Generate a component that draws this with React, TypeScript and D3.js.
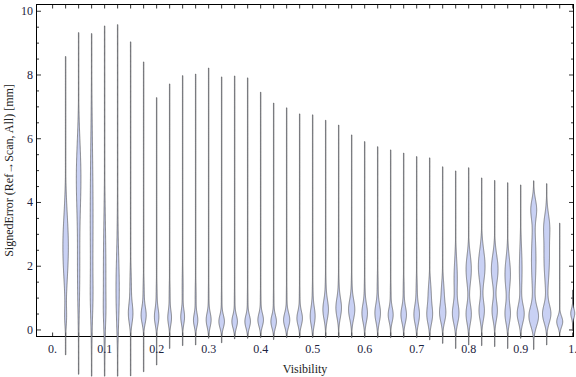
import React from "react";
import * as d3 from "d3";

// Category positions (Visibility bins)
const visibility = [
  0.025, 0.05, 0.075, 0.1, 0.125, 0.15, 0.175, 0.2, 0.225, 0.25,
  0.275, 0.3, 0.325, 0.35, 0.375, 0.4, 0.425, 0.45, 0.475, 0.5,
  0.525, 0.55, 0.575, 0.6, 0.625, 0.65, 0.675, 0.7, 0.725, 0.75,
  0.775, 0.8, 0.825, 0.85, 0.875, 0.9, 0.925, 0.95, 0.975, 1.0,
];

// Extent of each distribution (mm)
const maxError = [
  8.58, 9.33, 9.3, 9.54, 9.58, 9.04, 8.41, 7.29, 7.72, 7.98,
  8.03, 8.22, 7.94, 7.97, 7.91, 7.46, 7.12, 6.97, 6.78, 6.75,
  6.58, 6.43, 6.12, 5.91, 5.75, 5.65, 5.55, 5.44, 5.4, 5.12,
  4.99, 5.09, 4.77, 4.69, 4.62, 4.55, 4.68, 4.59, 3.35, 1.25,
];
const minError = [
  -0.78, -1.39, -1.45, -1.45, -1.45, -1.44, -1.31, -1.1, -0.58, -0.49,
  -0.47, -0.26, -0.4, -0.28, -0.26, -0.24, -0.3, -0.24, -0.25, -0.24,
  -0.24, -0.24, -0.24, -0.24, -0.24, -0.24, -0.24, -0.24, -0.31, -0.42,
  -0.58, -0.47, -0.49, -0.52, -0.58, -0.26, -0.61, -0.47, -0.08, -0.02,
];

// Density modes of each distribution: [centre (mm), spread (mm), relative density]
const densityModes: number[][][] = [
  [[2.6, 1.0, 0.55], [0.4, 0.3, 0.15]],
  [[4.8, 1.1, 0.45], [1.8, 1.2, 0.22]],
  [[3.5, 2.3, 0.28], [1.0, 0.6, 0.12]],
  [[1.8, 1.6, 0.25], [0.6, 0.4, 0.08]],
  [[1.2, 1.0, 0.3], [3.0, 1.5, 0.06]],
  [[0.5, 0.3, 0.4], [1.3, 0.6, 0.15]],
  [[0.45, 0.25, 0.46], [1.1, 0.5, 0.12]],
  [[0.4, 0.25, 0.4], [1.0, 0.5, 0.1]],
  [[0.37, 0.22, 0.33], [1.0, 0.5, 0.1]],
  [[0.4, 0.22, 0.35], [1.3, 0.6, 0.1]],
  [[0.3, 0.2, 0.4], [1.0, 0.5, 0.1]],
  [[0.31, 0.22, 0.47], [1.0, 0.5, 0.07]],
  [[0.26, 0.2, 0.53], [0.9, 0.45, 0.07]],
  [[0.26, 0.2, 0.53], [0.9, 0.45, 0.07]],
  [[0.26, 0.2, 0.53], [0.9, 0.45, 0.07]],
  [[0.31, 0.2, 0.53], [0.9, 0.45, 0.07]],
  [[0.26, 0.2, 0.53], [0.9, 0.45, 0.07]],
  [[0.31, 0.22, 0.6], [1.0, 0.45, 0.07]],
  [[0.36, 0.22, 0.53], [1.0, 0.45, 0.07]],
  [[0.42, 0.28, 0.47], [1.1, 0.45, 0.08]],
  [[0.63, 0.3, 0.53], [1.3, 0.45, 0.08]],
  [[0.68, 0.3, 0.53], [1.3, 0.45, 0.08]],
  [[0.63, 0.3, 0.6], [1.3, 0.45, 0.08]],
  [[0.52, 0.28, 0.53], [1.2, 0.45, 0.08]],
  [[0.52, 0.28, 0.53], [1.3, 0.5, 0.1]],
  [[0.47, 0.22, 0.47], [1.1, 0.45, 0.08]],
  [[0.47, 0.25, 0.53], [1.2, 0.45, 0.1]],
  [[0.47, 0.28, 0.53], [1.2, 0.45, 0.12]],
  [[0.45, 0.28, 0.5], [1.1, 0.4, 0.3]],
  [[0.5, 0.27, 0.53], [1.1, 0.4, 0.3], [2.7, 0.5, 0.05]],
  [[0.5, 0.3, 0.6], [1.6, 0.6, 0.33]],
  [[0.5, 0.3, 0.53], [1.9, 0.45, 0.53]],
  [[0.6, 0.3, 0.53], [2.0, 0.5, 0.67]],
  [[0.6, 0.3, 0.53], [1.9, 0.45, 0.67]],
  [[0.5, 0.3, 0.53], [1.75, 0.5, 0.55]],
  [[0.5, 0.28, 0.67], [1.9, 0.7, 0.27]],
  [[0.42, 0.3, 0.9], [2.2, 0.9, 0.45], [3.8, 0.3, 0.5]],
  [[0.5, 0.28, 0.8], [2.3, 0.8, 0.55], [3.3, 0.35, 0.35]],
  [[0.26, 0.17, 0.6]],
  [[0.52, 0.15, 0.4]],
];

const xTickValues = [0, 0.1, 0.2, 0.3, 0.4, 0.5, 0.6, 0.7, 0.8, 0.9, 1.0];
const xTickLabels = ["0.", "0.1", "0.2", "0.3", "0.4", "0.5", "0.6", "0.7", "0.8", "0.9", "1."];
const yTickValues = [0, 2, 4, 6, 8, 10];
const yTickLabels = ["0", "2", "4", "6", "8", "10"];

const W = 576;
const H = 377;
const FRAME = { left: 36.5, right: 573.5, top: 4.5, bottom: 336.5 };

export default function App() {
  const x = d3.scaleLinear().domain([-0.031, 1.0015]).range([FRAME.left, FRAME.right]);
  const y = d3.scaleLinear().domain([-0.205, 10.212]).range([FRAME.bottom, FRAME.top]);
  const w = d3.scaleLinear().domain([0, 1]).range([0, 5]);

  const minorX = d3.range(0, 41).map((i) => i / 40);
  const yTicksAll = d3.range(0, 21).map((i) => i / 2);

  const violins = visibility.map((v, i) => {
    const cx = x(v);
    const lo = minError[i];
    const hi = maxError[i];
    const n = 400;
    const pts: [number, number][] = d3.range(n + 1).map((k) => {
      const val = lo + ((hi - lo) * k) / n;
      const dens = densityModes[i].reduce(
        (s, [m, sd, a]) => s + a * Math.exp(-0.5 * ((val - m) / sd) ** 2),
        0
      );
      return [val, Math.max(0.22, w(dens))];
    });
    const area = d3
      .area<[number, number]>()
      .y((d) => y(d[0]))
      .x0((d) => cx - d[1])
      .x1((d) => cx + d[1])
      .curve(d3.curveLinear);
    return area(pts) || "";
  });

  const font = "'Liberation Serif', 'Times New Roman', serif";

  return (
    <svg
      width={W}
      height={H}
      style={{ position: "absolute", left: 0, top: 0, background: "#fff" }}
    >
      <rect x={0} y={0} width={W} height={H} fill="#fff" />
      {/* frame */}
      <rect
        x={FRAME.left}
        y={FRAME.top}
        width={FRAME.right - FRAME.left}
        height={FRAME.bottom - FRAME.top}
        fill="none"
        stroke="#000"
        strokeWidth={1}
      />
      {/* x ticks */}
      {minorX.map((t, i) => (
        <g key={"xt" + i}>
          <line x1={x(t)} x2={x(t)} y1={FRAME.bottom} y2={FRAME.bottom - 4} stroke="#000" strokeWidth={0.8} />
          <line x1={x(t)} x2={x(t)} y1={FRAME.top} y2={FRAME.top + 4} stroke="#000" strokeWidth={0.8} />
        </g>
      ))}
      {/* y ticks */}
      {yTicksAll.map((t, i) => {
        const major = Math.abs(t % 2) < 1e-9;
        const len = major ? 4.5 : 2.5;
        return (
          <g key={"yt" + i}>
            <line x1={FRAME.left} x2={FRAME.left + len} y1={y(t)} y2={y(t)} stroke="#000" strokeWidth={0.8} />
            <line x1={FRAME.right} x2={FRAME.right - len} y1={y(t)} y2={y(t)} stroke="#000" strokeWidth={0.8} />
          </g>
        );
      })}
      {/* violins */}
      {violins.map((d, i) => (
        <path
          key={"v" + i}
          d={d}
          fill="#c9d1f4"
          stroke="#4a4a4a"
          strokeOpacity={0.85}
          strokeWidth={0.75}
        />
      ))}
      {/* tick labels */}
      {xTickValues.map((t, i) => (
        <text
          key={"xl" + i}
          x={x(t)}
          y={352.5}
          textAnchor="middle"
          fontFamily={font}
          fontSize={12}
          fill="#1c2340"
        >
          {xTickLabels[i]}
        </text>
      ))}
      {yTickValues.map((t, i) => (
        <text
          key={"yl" + i}
          x={33}
          y={y(t) + 4}
          textAnchor="end"
          fontFamily={font}
          fontSize={12}
          fill="#1c2340"
        >
          {yTickLabels[i]}
        </text>
      ))}
      {/* axis labels */}
      <text
        x={(FRAME.left + FRAME.right) / 2}
        y={372.5}
        textAnchor="middle"
        fontFamily={font}
        fontSize={12}
        fill="#222"
      >
        Visibility
      </text>
      <text
        transform={`translate(12.5, ${(FRAME.top + FRAME.bottom) / 2}) rotate(-90)`}
        textAnchor="middle"
        fontFamily={font}
        fontSize={12}
        fill="#222"
      >
        SignedError (Ref→Scan, All) [mm]
      </text>
    </svg>
  );
}
